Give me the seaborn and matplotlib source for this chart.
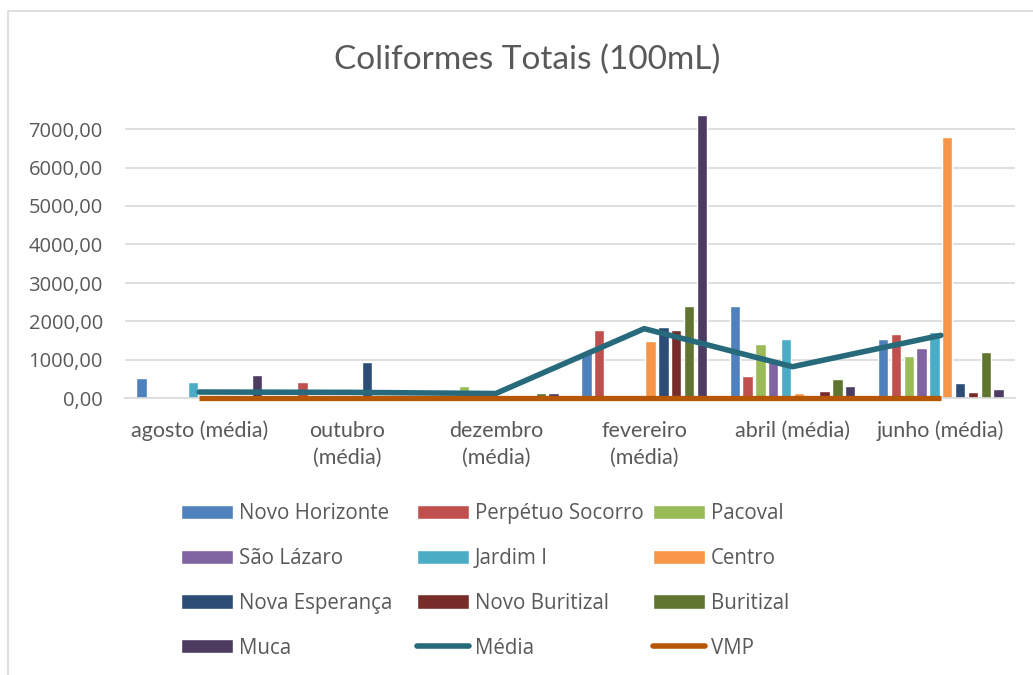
import numpy as np
import pandas as pd
import matplotlib
matplotlib.use("Agg")
import matplotlib.pyplot as plt
import seaborn as sns
from matplotlib.patches import Rectangle
from matplotlib.lines import Line2D

# ---------------- data ----------------
categories = ["agosto (média)", "outubro (média)", "dezembro (média)",
              "fevereiro (média)", "abril (média)", "junho (média)"]
tick_labels = ["agosto (média)", "outubro\n(média)", "dezembro\n(média)",
               "fevereiro\n(média)", "abril (média)", "junho (média)"]
series_names = ["Novo Horizonte", "Perpétuo Socorro", "Pacoval", "São Lázaro",
                "Jardim I", "Centro", "Nova Esperança", "Novo Buritizal",
                "Buritizal", "Muca"]
novo_horizonte = [525, 0, 0, 1216, 2411, 1537]
perpetuo_socorro = [0, 436, 0, 1779, 584, 1684]
pacoval = [0, 0, 325, 0, 1407, 1104]
sao_lazaro = [0, 0, 0, 0, 950, 1320]
jardim_i = [436, 0, 0, 0, 1545, 1736]
centro = [0, 80, 90, 1502, 135, 6792]
nova_esperanca = [0, 956, 0, 1857, 90, 403]
novo_buritizal = [0, 0, 0, 1788, 195, 169]
buritizal = [0, 0, 135, 2411, 506, 1216]
muca = [602, 0, 150, 7355, 325, 255]
media = [168, 160, 130, 1814, 826, 1641]
vmp = [0, 0, 0, 0, 0, 0]
y_ticks = [0, 1000, 2000, 3000, 4000, 5000, 6000, 7000]

colors = ["#4F81BD", "#C0504D", "#9BBB59", "#8064A2", "#4BACC6",
          "#F79646", "#2C4D75", "#772C2A", "#5F7530", "#4D3B62"]
media_color = "#276A7C"
vmp_color = "#B65708"
text_color = "#595959"
grid_color = "#D9D9D9"

values = [novo_horizonte, perpetuo_socorro, pacoval, sao_lazaro, jardim_i,
          centro, nova_esperanca, novo_buritizal, buritizal, muca]
rows = []
for name, vals in zip(series_names, values):
    for cat, v in zip(categories, vals):
        rows.append({"mes": cat, "bairro": name, "valor": v})
df = pd.DataFrame(rows)

# ---------------- style ----------------
sns.set_theme(style="white")
plt.rcParams["font.family"] = ["Open Sans", "DejaVu Sans"]
narrow = ["Lato", "DejaVu Sans"]

fig = plt.figure(figsize=(10.33, 6.75), dpi=100)
ax = fig.add_axes([125 / 1033, 1 - 398.5 / 675, 890 / 1033, (398.5 - 113.6) / 675])

sns.barplot(data=df, x="mes", y="valor", hue="bairro", order=categories,
            hue_order=series_names, palette=colors, width=0.865, gap=0.2,
            saturation=1, errorbar=None, ax=ax, zorder=2)
handles_bar, labels_bar = ax.get_legend_handles_labels()
if ax.get_legend() is not None:
    ax.get_legend().remove()

pos = np.arange(len(categories))
sns.lineplot(x=pos, y=media, color=media_color, lw=4.0, ax=ax, zorder=4,
             solid_capstyle="round", sort=False, legend=False)
sns.lineplot(x=pos, y=vmp, color=vmp_color, lw=3.8, ax=ax, zorder=5,
             solid_capstyle="butt", sort=False, legend=False, clip_on=False)

ax.set_xlim(-0.5, 5.5)
ax.set_ylim(0, 7400)
ax.set_yticks(y_ticks)
ax.set_yticklabels([f"{v:.2f}".replace(".", ",") for v in y_ticks],
                   fontsize=14.5, color=text_color)
ax.set_xticks(pos)
ax.set_xticklabels(tick_labels, fontsize=15.5, color=text_color, family=narrow,
                   linespacing=1.45)
ax.tick_params(axis="both", length=0)
ax.tick_params(axis="y", pad=16)
ax.tick_params(axis="x", pad=16)
ax.set_xlabel("")
ax.set_ylabel("")
ax.yaxis.grid(True, color=grid_color, lw=1.2)
ax.set_axisbelow(True)
for s in ["left", "right", "top"]:
    ax.spines[s].set_visible(False)
ax.spines["bottom"].set_color(grid_color)
ax.spines["bottom"].set_linewidth(1.2)

# title
fig.text(527 / 1033, 1 - 60 / 675, "Coliformes Totais (100mL)", ha="center",
         va="center", fontsize=24, color=text_color, family=narrow)

# chart frame
fig.patches.append(Rectangle((8 / 1033, -0.05), 1.1, 1 - 11 / 675 + 0.05,
                             transform=fig.transFigure, fill=False,
                             edgecolor=grid_color, lw=1.2))

# legend, row-major in 3 columns
h_media = Line2D([], [], color=media_color, lw=4.0, solid_capstyle="round")
h_vmp = Line2D([], [], color=vmp_color, lw=4.0, solid_capstyle="round")
bar_map = dict(zip(labels_bar, handles_bar))
all_h = [bar_map[n] for n in series_names] + [h_media, h_vmp]
all_l = series_names + ["Média", "VMP"]
col_x = [181, 417, 653]
for c in range(3):
    hs = [all_h[i] for i in range(c, 12, 3)]
    ls = [all_l[i] for i in range(c, 12, 3)]
    fig.legend(hs, ls, loc="upper left",
               bbox_to_anchor=(col_x[c] / 1033, 1 - 503 / 675),
               frameon=False, borderpad=0, borderaxespad=0,
               fontsize=14.8, labelcolor=text_color, handlelength=2.55,
               handleheight=0.68, handletextpad=0.25, labelspacing=1.16)

fig.savefig("out.png", dpi=100)
